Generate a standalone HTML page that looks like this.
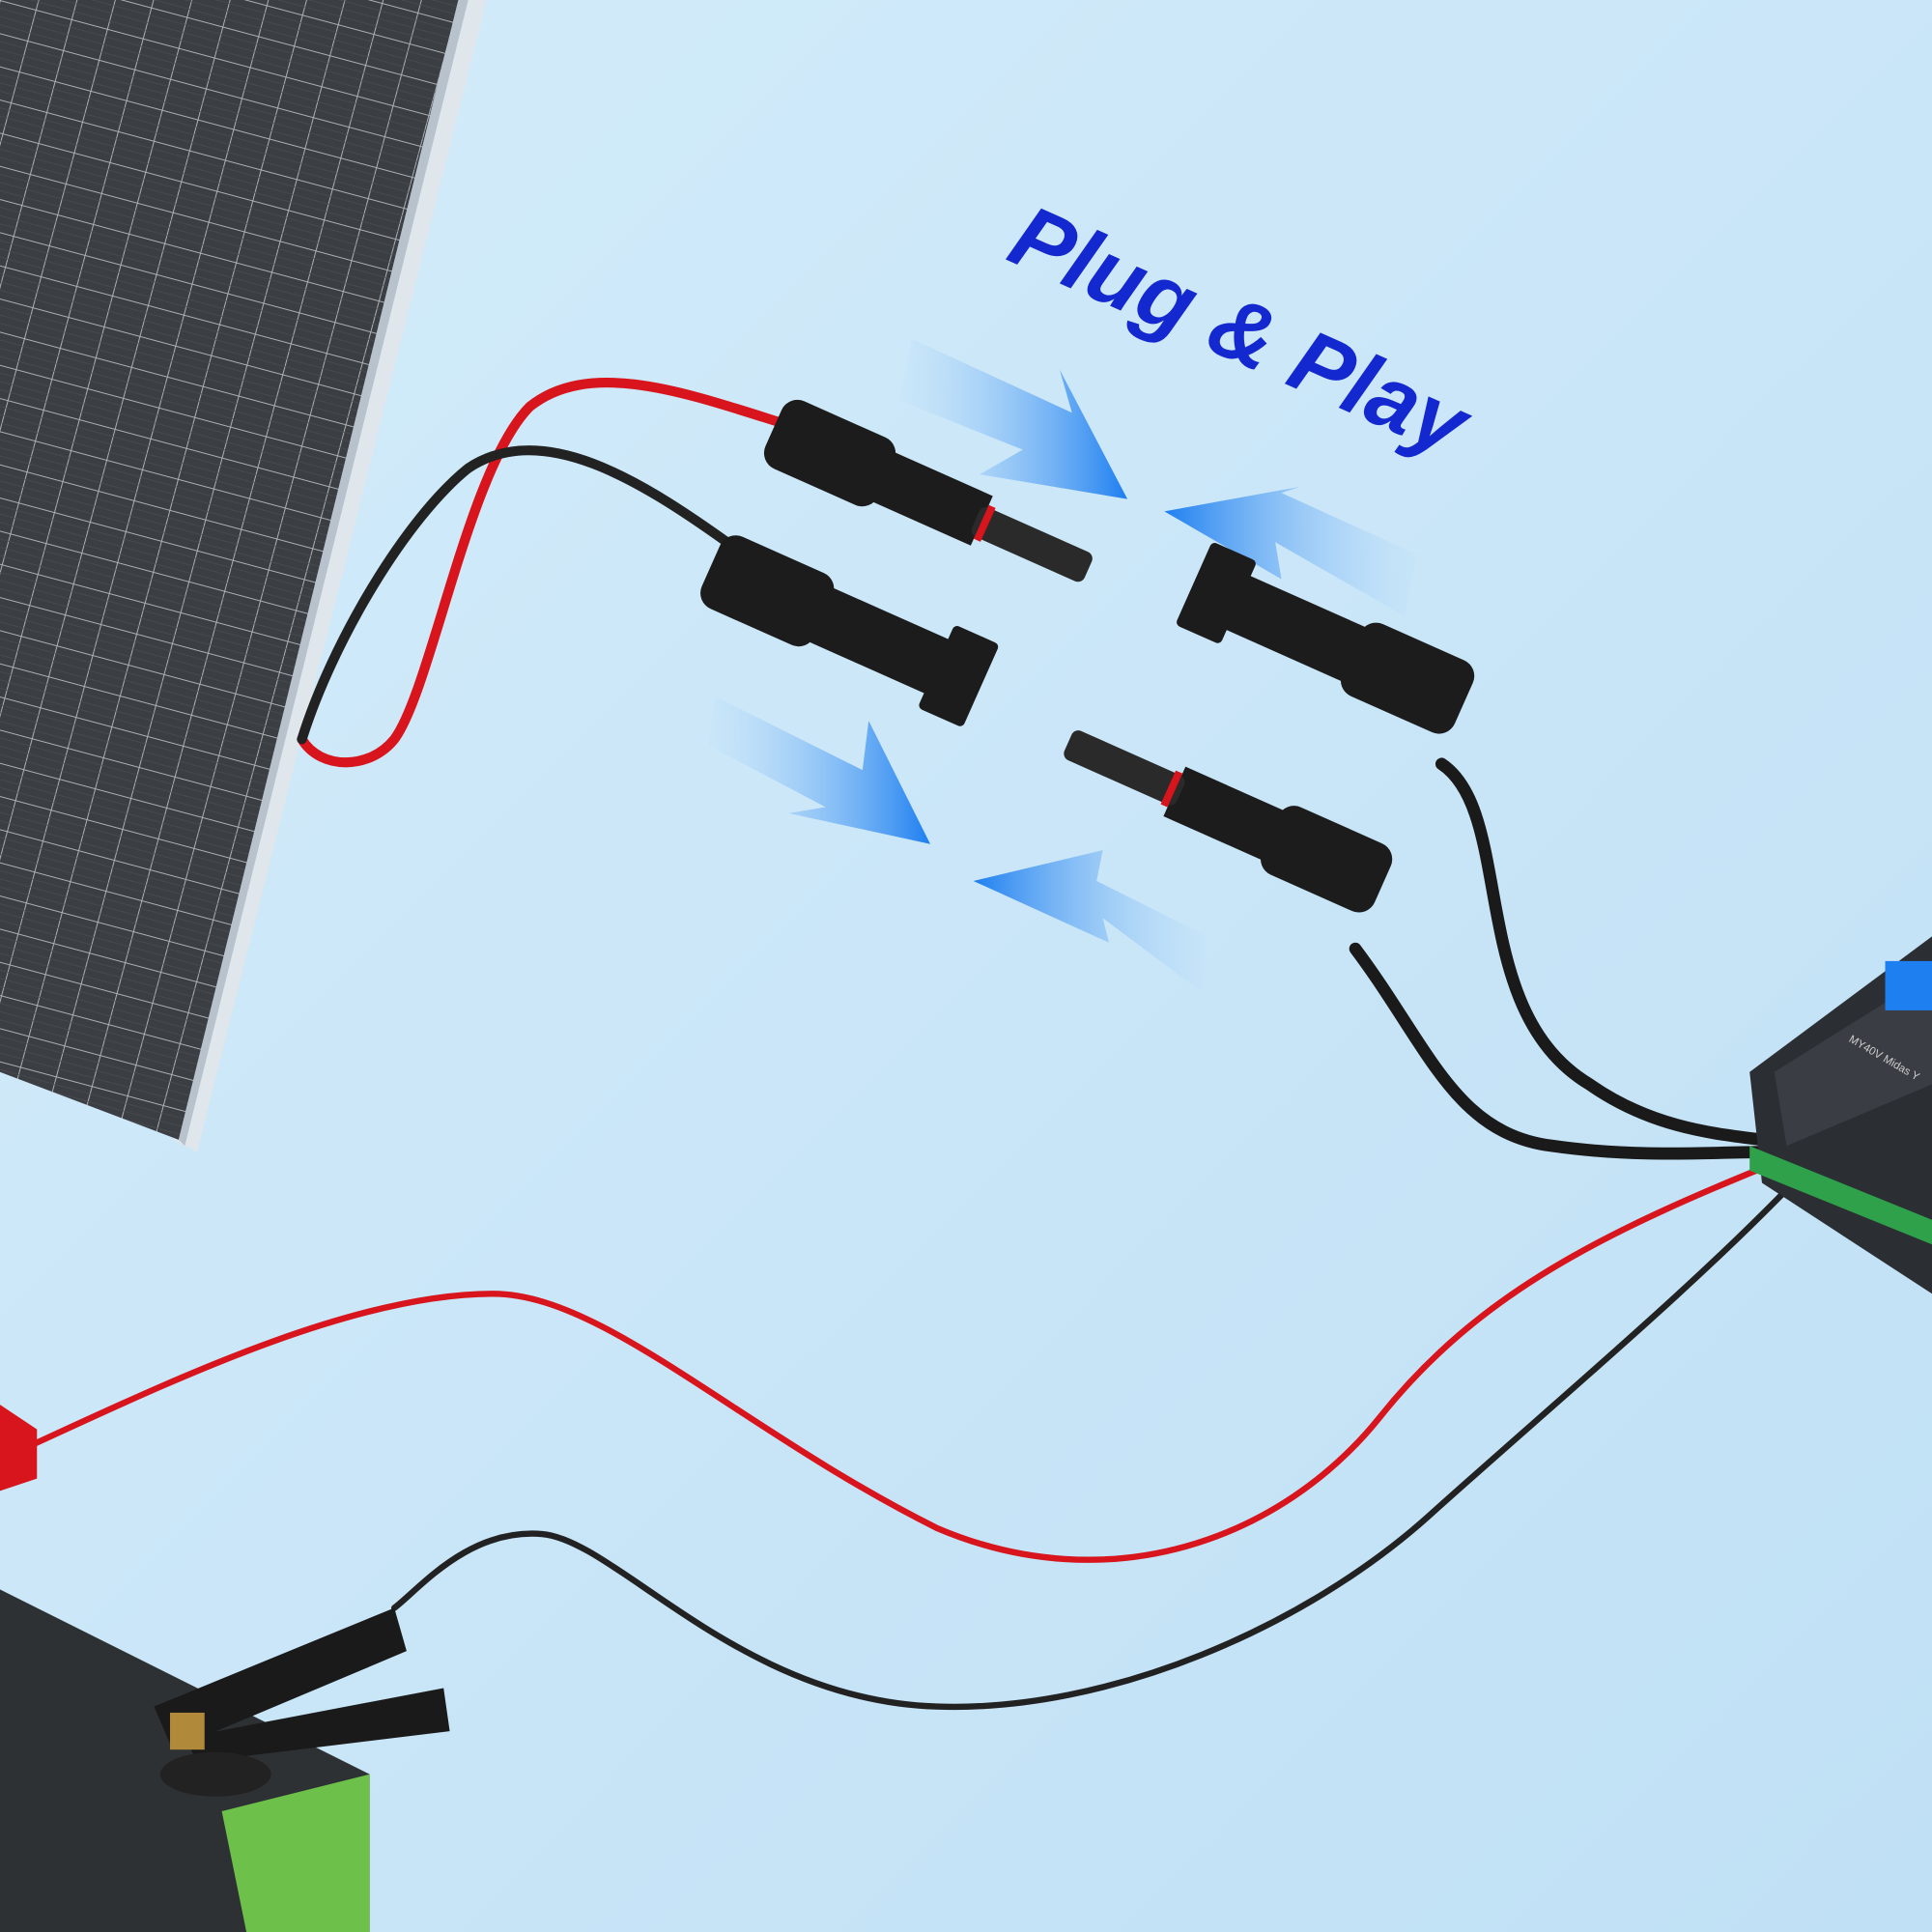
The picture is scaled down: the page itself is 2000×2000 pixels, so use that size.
<!DOCTYPE html>
<html><head><meta charset="utf-8"><style>
html,body{margin:0;padding:0;width:2000px;height:2000px;overflow:hidden;background:#cde8f8}
svg{display:block}
</style></head><body>
<svg width="2000" height="2000" viewBox="0 0 1568 1568" xmlns="http://www.w3.org/2000/svg">
<defs>
<linearGradient id="bg" x1="0" y1="0" x2="1" y2="1">
<stop offset="0" stop-color="#d3ecfa"/><stop offset="1" stop-color="#c0e0f5"/></linearGradient>
<linearGradient id="arr" x1="0" y1="0" x2="1" y2="0">
<stop offset="0" stop-color="#bfe0fb" stop-opacity="0.2"/><stop offset="1" stop-color="#1e7ff0"/></linearGradient>
<linearGradient id="arr2" x1="1" y1="0" x2="0" y2="0">
<stop offset="0" stop-color="#bfe0fb" stop-opacity="0.2"/><stop offset="1" stop-color="#1e7ff0"/></linearGradient>
<pattern id="cells" width="30" height="26" patternUnits="userSpaceOnUse" patternTransform="rotate(15)">
<rect width="30" height="26" fill="#3b3e43"/>
<path d="M0 0H30M0 0V26" stroke="#aab0b5" stroke-width="1.6"/>
<path d="M0 6.5H30M0 13H30M0 19.5H30" stroke="#4a4d52" stroke-width="0.6"/>
</pattern>
</defs>
<rect width="1568" height="1568" fill="url(#bg)"/>
<polygon points="375,0 395,0 160,935 140,925" fill="#dfe6ec"/>
<polygon points="0,0 372,0 145,925 0,870" fill="url(#cells)"/>
<polygon points="372,0 380,0 150,930 145,925" fill="#b8c2cc"/>
<g fill="none" stroke-linecap="round">
<path d="M640,345 C560,320 480,290 430,330 C380,380 350,560 320,600 C300,625 260,625 245,600" stroke="#d8141c" stroke-width="8"/>
<path d="M590,440 C520,390 440,340 380,380 C330,420 270,520 245,600" stroke="#222" stroke-width="8"/>
<path d="M1170,620 C1230,660 1190,820 1290,880 C1340,915 1390,920 1430,925" stroke="#1a1a1a" stroke-width="10"/>
<path d="M1100,770 C1160,850 1180,920 1260,930 C1330,940 1390,935 1430,935" stroke="#1a1a1a" stroke-width="10"/>
<path d="M1450,940 C1300,1000 1200,1050 1120,1150 C1040,1250 900,1300 760,1240 C600,1160 490,1050 400,1050 C280,1050 120,1130 10,1180" stroke="#d8141c" stroke-width="5"/>
<path d="M1465,950 C1380,1040 1260,1140 1160,1230 C1060,1320 900,1390 760,1385 C600,1380 500,1250 440,1245 C380,1240 340,1290 320,1305" stroke="#222" stroke-width="5"/>
</g>
<polygon points="740,275 870,335 860,300 915,405 795,385 830,365 730,325" fill="url(#arr)"/>
<polygon points="1150,450 1040,400 1055,395 945,415 1040,470 1035,440 1140,500" fill="url(#arr2)"/>
<polygon points="580,565 700,625 705,585 755,685 640,660 670,655 575,605" fill="url(#arr)"/>
<polygon points="980,760 890,715 895,690 790,715 900,765 895,745 975,805" fill="url(#arr2)"/>
<g fill="#1c1c1c">
<g transform="translate(640,320) rotate(24)"><rect x="0" y="0" width="100" height="60" rx="14"/><rect x="95" y="8" width="90" height="44"/><rect x="180" y="18" width="100" height="26" rx="6" fill="#2a2a2a"/><rect x="185" y="16" width="6" height="30" fill="#d8141c"/></g>
<g transform="translate(590,430) rotate(24)"><rect x="0" y="0" width="100" height="64" rx="14"/><rect x="95" y="8" width="110" height="48"/><rect x="200" y="-5" width="40" height="74" rx="4"/></g>
<g transform="translate(1175,600) rotate(204)"><rect x="0" y="0" width="100" height="64" rx="14"/><rect x="95" y="8" width="110" height="48"/><rect x="200" y="-5" width="40" height="74" rx="4"/></g>
<g transform="translate(1110,745) rotate(204)"><rect x="0" y="0" width="100" height="60" rx="14"/><rect x="95" y="8" width="90" height="44"/><rect x="180" y="18" width="100" height="26" rx="6" fill="#2a2a2a"/><rect x="185" y="16" width="6" height="30" fill="#d8141c"/></g>
</g>
<text x="0" y="0" transform="translate(815,210) rotate(24)" font-family="Liberation Sans, sans-serif" font-weight="900" font-style="italic" font-size="72" fill="#1428d0">Plug &amp; Play</text>
<polygon points="1420,870 1568,760 1568,1050 1430,960" fill="#2b2e33"/>
<polygon points="1440,870 1568,790 1568,880 1450,930" fill="#3a3e44"/>
<polygon points="1420,930 1568,990 1568,1010 1420,950" fill="#2ea14a"/>
<rect x="1530" y="780" width="38" height="40" fill="#1e7ff0"/>
<text transform="translate(1500,845) rotate(30)" font-family="Liberation Sans, sans-serif" font-size="9" fill="#ccc">MY40V Midas Y</text>
<polygon points="0,1290 300,1440 300,1568 0,1568" fill="#2e3134"/>
<polygon points="180,1470 300,1440 300,1568 200,1568" fill="#6dc04a"/>
<polygon points="0,1140 30,1160 30,1200 0,1210" fill="#d8141c"/>
<g fill="#1a1a1a">
<polygon points="125,1385 320,1305 330,1340 140,1420"/>
<polygon points="150,1410 360,1370 365,1405 160,1430"/>
<ellipse cx="175" cy="1440" rx="45" ry="18" fill="#222"/>
</g>
<rect x="138" y="1390" width="28" height="30" fill="#b08a3a"/>
</svg>
</body></html>
